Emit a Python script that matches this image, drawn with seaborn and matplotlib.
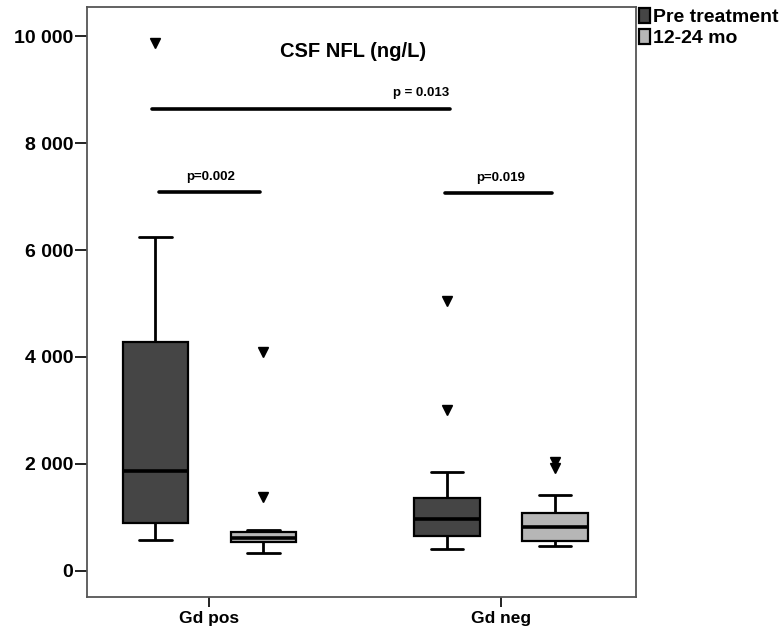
import numpy as np
import pandas as pd
import matplotlib
matplotlib.use("Agg")
import matplotlib.pyplot as plt
import seaborn as sns

groups = ["Gd pos", "Gd neg"]
timepoints = ["Pre treatment", "12-24 mo"]

gd_pos_pre = [567, 650, 750, 891, 1100, 1500, 1872, 2500, 3300, 4280, 5200, 6242, 9880]
gd_pos_post = [329, 400, 480, 535, 560, 590, 610, 650, 690, 722, 760, 1378, 4090]
gd_neg_pre = [404, 460, 520, 600, 648, 720, 800, 880, 966, 1050, 1150, 1250, 1359,
              1550, 1845, 3006, 5046]
gd_neg_post = [460, 480, 500, 530, 554, 600, 680, 750, 816, 880, 950, 1010, 1078,
               1200, 1415, 1920, 2033]

ytick_vals = [0, 2000, 4000, 6000, 8000, 10000]
ytick_labels = ["0", "2 000", "4 000", "6 000", "8 000", "10 000"]

# p-value brackets: (x0, x1, y_line, x_text, y_text, label)
brackets = [
    (-0.172, 0.174, 7080, 0.006, 7373, "p=0.002"),
    (0.808, 1.174, 7061, 0.999, 7348, "p=0.019"),
    (-0.196, 0.827, 8640, 0.726, 8933, "p = 0.013"),
]

# === Build long-form table ===
rows = []
for grp, tp, vals in [("Gd pos", "Pre treatment", gd_pos_pre),
                      ("Gd pos", "12-24 mo", gd_pos_post),
                      ("Gd neg", "Pre treatment", gd_neg_pre),
                      ("Gd neg", "12-24 mo", gd_neg_post)]:
    for v in vals:
        rows.append({"group": grp, "time": tp, "nfl": v})
df = pd.DataFrame(rows)

# === Plot ===
sns.set_theme(style="white")
plt.rcParams["font.family"] = ["Liberation Sans", "DejaVu Sans"]
plt.rcParams["font.weight"] = "bold"
plt.rcParams["text.color"] = "black"
plt.rcParams["xtick.color"] = "black"
plt.rcParams["ytick.color"] = "black"

fig = plt.figure(figsize=(7.82, 6.32), dpi=100)
ax = fig.add_axes([0.1109, 0.0554, 0.7024, 0.933])

sns.boxplot(
    data=df, x="group", y="nfl", hue="time",
    order=groups, hue_order=timepoints,
    palette=["#454545", "#b6b6b6"], saturation=1,
    width=0.74, gap=0.395, whis=1.5,
    linecolor="black", linewidth=1.6,
    medianprops={"linewidth": 2.6, "color": "black"},
    whiskerprops={"linewidth": 2.0},
    capprops={"linewidth": 2.0},
    flierprops={"marker": "v", "markersize": 7, "markerfacecolor": "black",
                "markeredgecolor": "black"},
    ax=ax,
)

ax.set_xlim(-0.42, 1.463)
ax.set_ylim(-494, 10543)
ax.set_yticks(ytick_vals)
ax.set_yticklabels(ytick_labels)
ax.set_xlabel("")
ax.set_ylabel("")
ax.tick_params(axis="y", direction="out", length=8.6, width=1.4, pad=1,
               labelsize=14, left=True, color="#222222", labelcolor="black")
ax.tick_params(axis="x", direction="out", length=7, width=1.4, pad=3,
               labelsize=12.5, bottom=True, color="#222222", labelcolor="black")
for lab in ax.get_xticklabels() + ax.get_yticklabels():
    lab.set_fontweight("bold")
for sp in ax.spines.values():
    sp.set_color("#555555")
    sp.set_linewidth(1.3)

ax.text(0.494, 9708, "CSF NFL (ng/L)", ha="center", va="center",
        fontsize=14.5, fontweight="bold", color="black")
for x0, x1, yl, xt, yt, lab in brackets:
    ax.plot([x0, x1], [yl, yl], color="black", linewidth=2.6)
    ax.text(xt, yt, lab, ha="center", va="center", fontsize=9.5,
            fontweight="bold", color="black")

handles, labels = ax.get_legend_handles_labels()
ax.get_legend().remove()
leg = fig.legend(handles, labels, loc="upper left", bbox_to_anchor=(0.8175, 0.988),
                 frameon=False, borderpad=0, borderaxespad=0,
                 handlelength=0.55, handleheight=0.85, handletextpad=0.15,
                 labelspacing=0.15, prop={"size": 14, "weight": "bold"})
for t in leg.get_texts():
    t.set_color("black")

fig.savefig("out.png", dpi=100)
